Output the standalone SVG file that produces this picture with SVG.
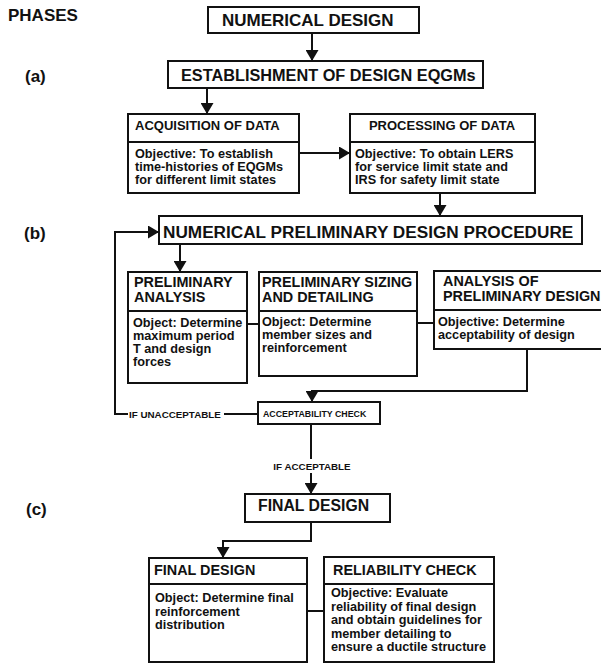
<svg xmlns="http://www.w3.org/2000/svg" width="601" height="664" viewBox="0 0 601 664">
<style>
.box{fill:#fff;stroke:#111;stroke-width:2}
.dv{stroke:#111;stroke-width:2}
.c{fill:none;stroke:#111;stroke-width:2}
text{font-family:"Liberation Sans",Arial,Helvetica,sans-serif;font-weight:bold;fill:#111}
.ph{font-size:17px}
.h1{font-size:17px}
.h2{font-size:16.3px}
.h3{font-size:13px}
.h4{font-size:14.4px}
.b{font-size:12.7px}
.sm{font-size:8.8px}
.lb{font-size:9.8px}
</style>
<defs>
<marker id="ah" markerUnits="userSpaceOnUse" markerWidth="12" markerHeight="13" refX="11" refY="6.5" orient="auto">
<path d="M0,0 L11,6.5 L0,13 Z" fill="#111"/>
</marker>
</defs>
<rect width="601" height="664" fill="#fff"/>
<g id="phases">
<text class="ph" x="8" y="21">PHASES</text>
<text class="ph" x="25" y="82">(a)</text>
<text class="ph" x="24" y="239">(b)</text>
<text class="ph" x="26" y="515">(c)</text>
</g>
<g id="connectors">
<line class="c" x1="312" y1="33" x2="312" y2="61" marker-end="url(#ah)"/>
<line class="c" x1="207" y1="88" x2="207" y2="114" marker-end="url(#ah)"/>
<line class="c" x1="299" y1="153" x2="350" y2="153" marker-end="url(#ah)"/>
<line class="c" x1="440" y1="193" x2="440" y2="216" marker-end="url(#ah)"/>
<line class="c" x1="180" y1="244" x2="180" y2="272" marker-end="url(#ah)"/>
<line class="c" x1="247" y1="324" x2="259" y2="324"/>
<line class="c" x1="417" y1="323" x2="434" y2="323"/>
<polyline class="c" points="527,349 527,391 312,391 312,402" marker-end="url(#ah)"/>
<line class="c" x1="258" y1="414" x2="224" y2="414"/>
<polyline class="c" points="128,414 115,414 115,232 159,232" marker-end="url(#ah)"/>
<text class="lb" x="129" y="417.5">IF UNACCEPTABLE</text>
<line class="c" x1="311" y1="424" x2="311" y2="459"/>
<line class="c" x1="311" y1="473" x2="311" y2="494" marker-end="url(#ah)"/>
<text class="lb" x="312" y="469.5" text-anchor="middle">IF ACCEPTABLE</text>
<polyline class="c" points="311,522 311,541 223,541 223,558" marker-end="url(#ah)"/>
<line class="c" x1="307" y1="611" x2="324" y2="611"/>
</g>
<g id="numerical-design">
<rect class="box" x="208" y="7" width="211" height="26"/>
<text class="h1" x="222" y="26">NUMERICAL DESIGN</text>
</g>
<g id="establishment">
<rect class="box" x="168" y="61" width="315" height="27"/>
<text class="h2" x="181" y="81">ESTABLISHMENT OF DESIGN EQGMs</text>
</g>
<g id="acquisition">
<rect class="box" x="128" y="114" width="171" height="79"/>
<line class="dv" x1="128" y1="142" x2="299" y2="142"/>
<text class="h3" x="135" y="130">ACQUISITION OF DATA</text>
<text class="b"><tspan x="135" y="158">Objective: To establish</tspan><tspan x="135" y="171">time-histories of EQGMs</tspan><tspan x="135" y="184">for different limit states</tspan></text>
</g>
<g id="processing">
<rect class="box" x="350" y="114" width="185" height="79"/>
<line class="dv" x1="350" y1="142" x2="535" y2="142"/>
<text class="h3" x="442" y="130" text-anchor="middle">PROCESSING OF DATA</text>
<text class="b"><tspan x="355" y="158">Objective: To obtain LERS</tspan><tspan x="355" y="171">for service limit state and</tspan><tspan x="355" y="184">IRS for safety limit state</tspan></text>
</g>
<g id="preliminary-procedure">
<rect class="box" x="159" y="216" width="423" height="28"/>
<text class="h1" x="163" y="238" style="font-size:17.2px">NUMERICAL PRELIMINARY DESIGN PROCEDURE</text>
</g>
<g id="preliminary-analysis">
<rect class="box" x="128" y="272" width="119" height="111"/>
<line class="dv" x1="128" y1="311" x2="247" y2="311"/>
<text class="h4"><tspan x="134" y="287">PRELIMINARY</tspan><tspan x="134" y="302">ANALYSIS</tspan></text>
<text class="b"><tspan x="133" y="327">Object: Determine</tspan><tspan x="133" y="340">maximum period</tspan><tspan x="133" y="353">T and design</tspan><tspan x="133" y="366">forces</tspan></text>
</g>
<g id="preliminary-sizing">
<rect class="box" x="259" y="272" width="158" height="104"/>
<line class="dv" x1="259" y1="311" x2="417" y2="311"/>
<text class="h4"><tspan x="262" y="287">PRELIMINARY SIZING</tspan><tspan x="262" y="302">AND DETAILING</tspan></text>
<text class="b"><tspan x="262" y="326">Object: Determine</tspan><tspan x="262" y="339">member sizes and</tspan><tspan x="262" y="352">reinforcement</tspan></text>
</g>
<g id="analysis-preliminary">
<rect class="box" x="434" y="271" width="180" height="78"/>
<line class="dv" x1="434" y1="310" x2="614" y2="310"/>
<text class="h4"><tspan x="443" y="286">ANALYSIS OF</tspan><tspan x="443" y="301">PRELIMINARY DESIGN</tspan></text>
<text class="b"><tspan x="438" y="326">Objective: Determine</tspan><tspan x="438" y="339">acceptability of design</tspan></text>
</g>
<g id="acceptability-check">
<rect class="box" x="258" y="402" width="122" height="22"/>
<text class="sm" x="263" y="416.5">ACCEPTABILITY CHECK</text>
</g>
<g id="final-design">
<rect class="box" x="245" y="494" width="145" height="28"/>
<text class="h2" x="258" y="511" style="font-size:15.8px">FINAL DESIGN</text>
</g>
<g id="final-design-detail">
<rect class="box" x="149" y="558" width="158" height="104"/>
<line class="dv" x1="149" y1="584" x2="307" y2="584"/>
<text class="h4" x="154" y="575">FINAL DESIGN</text>
<text class="b"><tspan x="155" y="602">Object: Determine final</tspan><tspan x="155" y="615.5">reinforcement</tspan><tspan x="155" y="629">distribution</tspan></text>
</g>
<g id="reliability-check">
<rect class="box" x="324" y="557" width="170" height="105"/>
<line class="dv" x1="324" y1="584" x2="494" y2="584"/>
<text class="h4" x="333" y="575">RELIABILITY CHECK</text>
<text class="b"><tspan x="331" y="597">Objective: Evaluate</tspan><tspan x="331" y="610.5">reliability of final design</tspan><tspan x="331" y="624">and obtain guidelines for</tspan><tspan x="331" y="637.5">member detailing to</tspan><tspan x="331" y="651">ensure a ductile structure</tspan></text>
</g>
</svg>
